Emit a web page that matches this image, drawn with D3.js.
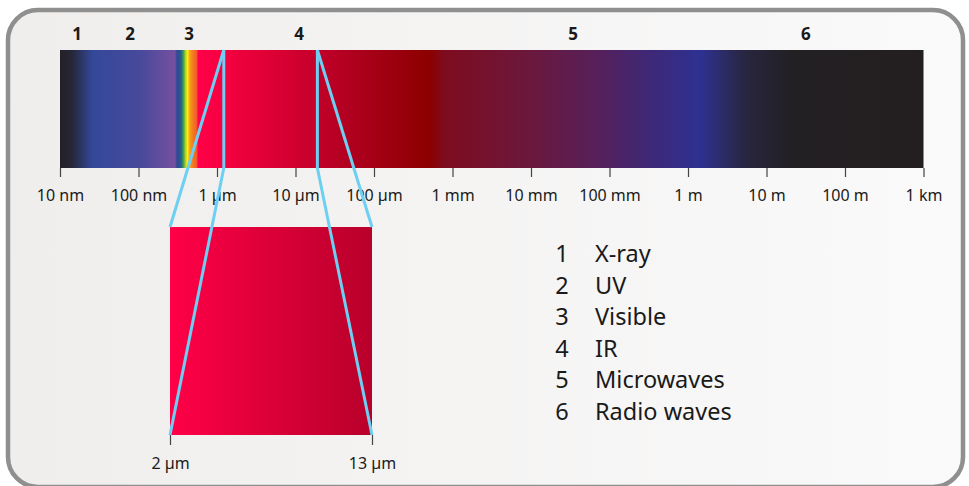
<!DOCTYPE html>
<html>
<head>
<meta charset="utf-8">
<script src="https://cdn.jsdelivr.net/npm/d3@7"></script>
<style>
  html, body { margin: 0; padding: 0; background: #ffffff; }
  svg { display: block; }
  text { font-family: "Noto Sans", "Open Sans", sans-serif; fill: #1a1a1a; }
</style>
</head>
<body>
<svg id="chart" width="969" height="486"></svg>
<script>
// ---------- DATA ----------
// axis ticks (wavelength in metres) and their labels
const tickValues = [1e-8, 1e-7, 1e-6, 1e-5, 1e-4, 1e-3, 1e-2, 1e-1, 1, 10, 100, 1000];
const tickLabels = ["10 nm", "100 nm", "1 µm", "10 µm", "100 µm", "1 mm", "10 mm", "100 mm", "1 m", "10 m", "100 m", "1 km"];

// band number labels placed above the spectrum (centre wavelength, m)
const bandIds = ["1", "2", "3", "4", "5", "6"];
const bandCentres = [1.65e-8, 7.8e-8, 4.4e-7, 1.11e-5, 3.43e-2, 31.8];
const bandNames = ["X-ray", "UV", "Visible", "IR", "Microwaves", "Radio waves"];

// spectrum colour stops (wavelength in metres, colour)
const stopWavelengths = [1e-8, 1.4e-8, 2.6e-8, 1.05e-7, 2.9e-7, 3.1e-7, 3.45e-7, 3.7e-7, 3.95e-7, 4.2e-7, 4.5e-7, 5.0e-7, 5.45e-7, 5.8e-7, 1.23e-6, 8.5e-6, 1.94e-5, 5e-5, 5.2e-4, 8.0e-4, 9.7e-3, 7.6e-2, 0.44, 1.42, 2.6, 5.3, 20, 1000];
const stopColours = ["#232026", "#262636", "#34489a", "#48499b", "#7550a0", "#2d4a98", "#2a5a8a", "#2f9a50", "#a8cc38", "#fff200", "#f5a01d", "#f47521", "#f26028", "#ff0048", "#f50040", "#d40030", "#c20029", "#b0001f", "#8b0000", "#7e0c20", "#6b183c", "#55205c", "#3a2a7c", "#2e3192", "#2c2c6c", "#282640", "#232024", "#231f20"];

// zoomed IR segment (wavelength range on the main axis) and the inset labels
const zoomRange = [1.22e-6, 1.9e-5];
const insetLabels = ["2 µm", "13 µm"];
const insetColours = ["#ff0047", "#b8002a"];

// ---------- LAYOUT ----------
const svg = d3.select("#chart");
const band = { x0: 60, x1: 923.5, y0: 50, y1: 168 };
const inset = { x0: 170, x1: 372, y0: 227, y1: 435 };

const x = d3.scaleLog().domain([tickValues[0], tickValues[tickValues.length - 1]]).range([band.x0, band.x1]);
const xi = d3.scaleLinear().domain([0, 1]).range([inset.x0, inset.x1]);

const defs = svg.append("defs");

// frame background gradient
const bg = defs.append("linearGradient").attr("id", "bgGrad").attr("x1", "0%").attr("x2", "100%");
bg.append("stop").attr("offset", "0%").attr("stop-color", "#efeeed");
bg.append("stop").attr("offset", "100%").attr("stop-color", "#fbfafa");

svg.append("rect")
  .attr("x", 8).attr("y", 10).attr("width", 955).attr("height", 477)
  .attr("rx", 30).attr("ry", 30)
  .attr("fill", "url(#bgGrad)")
  .attr("stroke", "#8f8f8f").attr("stroke-width", 4.5);

// spectrum gradient via scale
const spec = defs.append("linearGradient").attr("id", "specGrad")
  .attr("gradientUnits", "userSpaceOnUse")
  .attr("x1", band.x0).attr("x2", band.x1).attr("y1", 0).attr("y2", 0);
stopWavelengths.forEach((w, i) => {
  spec.append("stop")
    .attr("offset", ((x(w) - band.x0) / (band.x1 - band.x0)))
    .attr("stop-color", stopColours[i]);
});

svg.append("rect")
  .attr("x", band.x0).attr("y", band.y0)
  .attr("width", band.x1 - band.x0).attr("height", band.y1 - band.y0)
  .attr("fill", "url(#specGrad)");

// axis
const axis = d3.axisBottom(x)
  .tickValues(tickValues)
  .tickFormat((d, i) => tickLabels[i])
  .tickSize(9)
  .tickPadding(13);
const gAxis = svg.append("g").attr("transform", `translate(0,${band.y1})`).call(axis);
gAxis.select(".domain").remove();
gAxis.selectAll(".tick line").attr("stroke", "#444").attr("stroke-width", 1.2);
gAxis.selectAll(".tick text")
  .attr("font-size", 16)
  .attr("font-family", "Noto Sans, sans-serif")
  .attr("fill", "#1a1a1a");

// band numbers
svg.append("g").selectAll("text").data(bandIds).join("text")
  .attr("x", (d, i) => x(bandCentres[i]))
  .attr("y", 40)
  .attr("text-anchor", "middle")
  .attr("font-size", 17)
  .attr("font-weight", "bold")
  .text(d => d);

// inset gradient
const ig = defs.append("linearGradient").attr("id", "insetGrad").attr("x1", "0%").attr("x2", "100%");
ig.append("stop").attr("offset", "0%").attr("stop-color", insetColours[0]);
ig.append("stop").attr("offset", "100%").attr("stop-color", insetColours[1]);

svg.append("rect")
  .attr("x", inset.x0).attr("y", inset.y0)
  .attr("width", inset.x1 - inset.x0).attr("height", inset.y1 - inset.y0)
  .attr("fill", "url(#insetGrad)");

// inset axis
const insetAxis = d3.axisBottom(xi)
  .tickValues([0, 1])
  .tickFormat((d, i) => insetLabels[i])
  .tickSize(10)
  .tickPadding(13);
const gInset = svg.append("g").attr("transform", `translate(0,${inset.y1})`).call(insetAxis);
gInset.select(".domain").remove();
gInset.selectAll(".tick line").attr("stroke", "#444").attr("stroke-width", 1.2);
gInset.selectAll(".tick text")
  .attr("font-size", 16)
  .attr("font-family", "Noto Sans, sans-serif")
  .attr("fill", "#1a1a1a");

// zoom lines
const zl = x(zoomRange[0]), zr = x(zoomRange[1]);
const lineCol = "#6dcff2";
const paths = [
  [[zl, band.y0], [inset.x0, inset.y0]],
  [[zl, band.y0], [zl, band.y1], [inset.x0, inset.y1]],
  [[zr, band.y0], [inset.x1, inset.y0]],
  [[zr, band.y0], [zr, band.y1], [inset.x1, inset.y1]]
];
svg.append("g").selectAll("path").data(paths).join("path")
  .attr("d", d3.line())
  .attr("fill", "none")
  .attr("stroke", lineCol)
  .attr("stroke-width", 3)
  .attr("stroke-linejoin", "round");

// legend
const legend = svg.append("g").attr("transform", "translate(0,262)");
const rowH = 31.6;
legend.selectAll("text.num").data(bandIds).join("text")
  .attr("class", "num")
  .attr("x", 562).attr("y", (d, i) => i * rowH)
  .attr("text-anchor", "middle")
  .attr("font-size", 23.5)
  .text(d => d);
legend.selectAll("text.name").data(bandNames).join("text")
  .attr("class", "name")
  .attr("x", 595).attr("y", (d, i) => i * rowH)
  .attr("font-size", 23.5)
  .text(d => d);
</script>
</body>
</html>
